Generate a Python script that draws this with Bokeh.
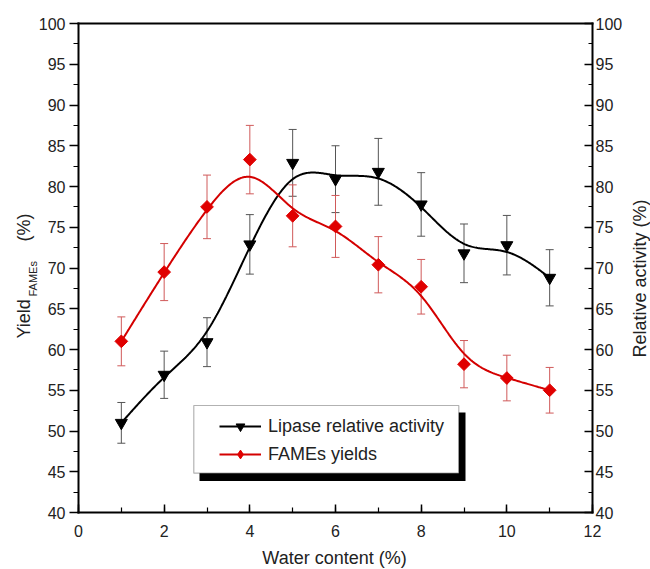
import numpy as np
from bokeh.plotting import figure
from bokeh.models import (Range1d, LinearAxis, SingleIntervalTicker, Whisker, TeeHead,
                          ColumnDataSource, Legend, LegendItem, Label, BoxAnnotation)
from bokeh.embed import file_html
from bokeh.resources import INLINE

# ---------------- data ----------------
water = [1, 2, 3, 4, 5, 6, 7, 8, 9, 10, 11]
lipase = [51.0, 56.9, 60.9, 72.9, 82.9, 80.9, 81.8, 77.8, 71.8, 72.8, 68.8]
lipase_err = [2.5, 2.9, 3.0, 3.65, 4.1, 4.1, 4.1, 3.9, 3.6, 3.65, 3.45]
fames = [61.0, 69.5, 77.5, 83.3, 76.4, 75.1, 70.4, 67.7, 58.2, 56.5, 55.0]
fames_err = [3.0, 3.5, 3.9, 4.2, 3.8, 3.8, 3.45, 3.35, 2.9, 2.8, 2.8]

series_labels = ["Lipase relative activity", "FAMEs yields"]
x_title = "Water content (%)"
y_title_main = "Yield"
y_title_sub = "FAMEs"
y_title_unit = "(%)"
y2_title = "Relative activity (%)"

X_MIN, X_MAX = 0, 12
Y_MIN, Y_MAX = 40, 100

FONT = "Liberation Sans"
TXT = "#222222"
RED = "#e00000"


def bspline(xs, ys, n=40):
    """Clamped uniform cubic B-spline using the data points as control points."""
    px = np.r_[xs[0], xs[0], xs, xs[-1], xs[-1]].astype(float)
    py = np.r_[ys[0], ys[0], ys, ys[-1], ys[-1]].astype(float)
    outx, outy = [], []
    nseg = len(px) - 3
    for i in range(nseg):
        t = np.linspace(0, 1, n, endpoint=(i == nseg - 1))
        b0 = (1 - t) ** 3 / 6
        b1 = (3 * t ** 3 - 6 * t ** 2 + 4) / 6
        b2 = (-3 * t ** 3 + 3 * t ** 2 + 3 * t + 1) / 6
        b3 = t ** 3 / 6
        outx.append(b0 * px[i] + b1 * px[i + 1] + b2 * px[i + 2] + b3 * px[i + 3])
        outy.append(b0 * py[i] + b1 * py[i + 1] + b2 * py[i + 2] + b3 * py[i + 3])
    return np.concatenate(outx), np.concatenate(outy)


# layout in page pixels: canvas occupies [0, 650] x [0, 569]; axes box as below
W, H = 650, 569
CL, CT = 0.0, 0.0
CR, CB = CL + W, CT + H
FL, FR, FT, FB = 78.0, 592.0, 23.0, 512.0
SX = (FR - FL) / (X_MAX - X_MIN)
SY = (FB - FT) / (Y_MAX - Y_MIN)


def dx(px):
    return X_MIN + (px - FL) / SX


def dy(py):
    return Y_MIN + (FB - py) / SY


p = figure(width=W, height=H,
           x_range=Range1d(dx(CL), dx(CR)), y_range=Range1d(dy(CB), dy(CT)),
           output_backend="svg", toolbar_location=None,
           min_border=0, x_axis_location=None, y_axis_location=None)
p.xgrid.visible = False
p.ygrid.visible = False
p.outline_line_color = None
p.background_fill_color = "white"
p.border_fill_color = "white"


def style_axis(ax):
    ax.axis_line_color = "black"
    ax.axis_line_width = 2
    ax.axis_line_cap = "square"
    ax.major_tick_line_color = "black"
    ax.major_tick_line_width = 1.5
    ax.minor_tick_line_color = "black"
    ax.minor_tick_line_width = 1.2
    ax.major_label_text_font = FONT
    ax.major_label_text_font_size = "16px"
    ax.major_label_text_color = TXT


xaxis = LinearAxis(ticker=SingleIntervalTicker(interval=2, num_minor_ticks=2),
                   fixed_location=Y_MIN, bounds=(X_MIN, X_MAX))
yaxis = LinearAxis(ticker=SingleIntervalTicker(interval=5, num_minor_ticks=2),
                   fixed_location=X_MIN, bounds=(Y_MIN, Y_MAX))
y2axis = LinearAxis(ticker=SingleIntervalTicker(interval=5, num_minor_ticks=2),
                    fixed_location=X_MAX, bounds=(Y_MIN, Y_MAX))
topaxis = LinearAxis(ticker=SingleIntervalTicker(interval=2, num_minor_ticks=2),
                     fixed_location=Y_MAX, bounds=(X_MIN, X_MAX))
for ax in (xaxis, yaxis, y2axis, topaxis):
    style_axis(ax)
xaxis.major_tick_in = 8
xaxis.major_tick_out = 0
xaxis.minor_tick_in = 5
xaxis.minor_tick_out = 0
xaxis.major_label_standoff = 12
yaxis.major_tick_in = 0
yaxis.major_tick_out = 9
yaxis.minor_tick_in = 0
yaxis.minor_tick_out = 5
yaxis.major_label_standoff = 4
y2axis.major_tick_in = 8
y2axis.major_tick_out = 0
y2axis.minor_tick_in = 4
y2axis.minor_tick_out = 0
y2axis.major_label_standoff = 3
topaxis.major_tick_line_color = None
topaxis.minor_tick_line_color = None
topaxis.major_label_text_color = None
p.add_layout(xaxis, "below")
p.add_layout(yaxis, "left")
p.add_layout(y2axis, "right")
p.add_layout(topaxis, "above")

# error bars
lsrc = ColumnDataSource(dict(x=water, lo=[v - e for v, e in zip(lipase, lipase_err)],
                             hi=[v + e for v, e in zip(lipase, lipase_err)]))
fsrc = ColumnDataSource(dict(x=water, lo=[v - e for v, e in zip(fames, fames_err)],
                             hi=[v + e for v, e in zip(fames, fames_err)]))
for src, col in ((lsrc, "#555555"), (fsrc, "#d05a5a")):
    w = Whisker(base="x", lower="lo", upper="hi", source=src, line_color=col, line_width=1,
                upper_head=TeeHead(size=8, line_color=col, line_width=1),
                lower_head=TeeHead(size=8, line_color=col, line_width=1))
    p.add_layout(w)

# smooth curves and markers
bx, by = bspline(water, lipase)
rx, ry = bspline(water, fames)
l1 = p.line(bx, by, line_color="black", line_width=2)
l2 = p.line(rx, ry, line_color="#d40000", line_width=2)
s1 = p.scatter(water, lipase, marker="inverted_triangle", size=12, color="black")
s2 = p.scatter(water, fames, marker="square", angle=np.pi / 4, size=9, color=RED)
s2_leg = p.scatter(water, fames, marker="diamond", size=17, color=RED, visible=False)

# legend frame with shadow
shadow = BoxAnnotation(left=dx(199), right=dx(465), top=dy(412), bottom=dy(480.5),
                       fill_color="black", fill_alpha=1, line_alpha=0, level="underlay")
box = BoxAnnotation(left=dx(193.3), right=dx(458.3), top=dy(405), bottom=dy(472.7),
                    fill_color="white", fill_alpha=1, line_color="black", line_width=1.2,
                    level="underlay")
p.add_layout(shadow)
p.add_layout(box)

legend = Legend(items=[LegendItem(label=series_labels[0], renderers=[l1, s1]),
                       LegendItem(label=series_labels[1], renderers=[l2, s2_leg])],
                location=(209, 94), label_text_font=FONT, label_text_font_size="18px",
                label_text_color=TXT, glyph_width=42, glyph_height=22, label_height=22,
                spacing=6, padding=10, margin=0, label_standoff=7,
                background_fill_alpha=0, border_line_alpha=0, inactive_fill_alpha=0)
p.add_layout(legend)

# axis titles
common = dict(text_font=FONT, text_color=TXT, text_baseline="alphabetic")
p.add_layout(Label(x=dx(334), y=dy(557), text=x_title, text_align="center",
                   text_font_size="18px", **common))
p.add_layout(Label(x=dx(23), y=dy(338), text=y_title_main, angle=np.pi / 2, text_align="left",
                   text_font_size="18px", **common))
p.add_layout(Label(x=dx(32.5), y=dy(296), text=y_title_sub, angle=np.pi / 2, text_align="left",
                   text_font_size="11px", **common))
p.add_layout(Label(x=dx(23), y=dy(241), text=y_title_unit, angle=np.pi / 2, text_align="left",
                   text_font_size="18px", **common))
p.add_layout(Label(x=dx(639), y=dy(357), text=y2_title, angle=np.pi / 2, text_align="left",
                   text_font_size="18px", **common))

open("out.html", "w").write(file_html(p, INLINE))
